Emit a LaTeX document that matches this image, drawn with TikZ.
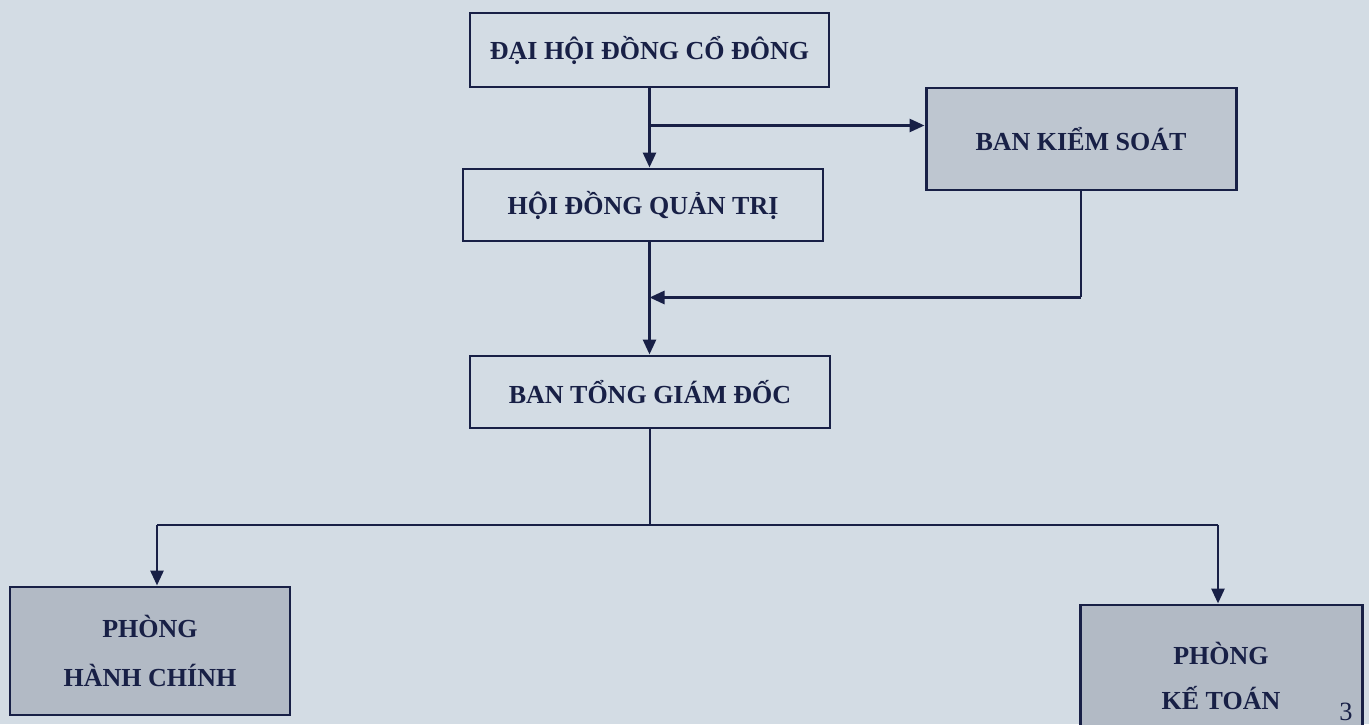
\documentclass[tikz,border=0pt]{standalone}
\usepackage{fontspec}
\setmainfont{Liberation Serif}
\usepackage{tikz}
\usepackage{xcolor}
\usetikzlibrary{arrows.meta, positioning, calc}
\definecolor{cPaper}{RGB}{211,220,228}
\definecolor{cInk}{RGB}{24,32,70}
\definecolor{cShade}{RGB}{190,198,208}
\definecolor{cShadeDk}{RGB}{178,186,197}
\tikzset{
	unit/.style   ={rectangle, draw=cInk, line width=1.7pt, align=center, text=cInk, font=\fontsize{14.8}{18}\selectfont\bfseries},
	shadeunit/.style={unit, fill=cShade},
	sig/.style    ={-{Triangle[length=3mm, width=2.6mm]}, line width=1.6pt, draw=cInk},
	wire/.style   ={line width=1.6pt, draw=cInk},
}
\begin{document}
\begin{tikzpicture}
	\fill[cPaper] (0,0) rectangle (27.38,14.48);
	\useasboundingbox (0,0) rectangle (27.38,14.48);
	\begin{scope}
	\clip (0,0) rectangle (27.38,14.48);
	\node[unit, minimum width=7.18cm, minimum height=1.48cm] (dh) at (12.99,13.48) {ĐẠI HỘI ĐỒNG CỔ ĐÔNG};
	\node[shadeunit, minimum width=6.2cm, minimum height=2.04cm] (bks) at (21.62,11.70) {BAN KIỂM SOÁT};
	\node[unit, minimum width=7.2cm, minimum height=1.44cm] (hd) at (12.86,10.38) {HỘI ĐỒNG QUẢN TRỊ};
	\node[unit, minimum width=7.2cm, minimum height=1.44cm] (tgd) at (13.0,6.64) {BAN TỔNG GIÁM ĐỐC};
	\node[shadeunit, fill=cShadeDk, minimum width=5.6cm, minimum height=2.56cm] (phc) at (3.0,1.46) {PHÒNG\\[10pt] HÀNH CHÍNH};
	\node[shadeunit, fill=cShadeDk, minimum width=5.64cm, minimum height=2.84cm] (pkt) at (24.42,0.96) {PHÒNG\\[8pt] KẾ TOÁN};
	\end{scope}
	% junction points
	\coordinate (j1) at ($(dh.south)+(0,-0.74)$);
	\coordinate (j2) at ($(bks.south)+(0,-2.12)$);
	\coordinate (j3) at ($(tgd.south)+(0,-1.94)$);
	\draw[sig] (dh.south) -- (dh.south |- hd.north);
	\draw[sig] (j1) -- (j1 -| bks.west);
	\draw[sig] (dh.south |- hd.south) -- (dh.south |- tgd.north);
	\draw[wire] (bks.south) -- (j2);
	\draw[sig] (j2) -- (j2 -| dh.south);
	\draw[wire] (tgd.south) -- (j3);
	\draw[wire] (3.14,3.98) coordinate (bl) -- (24.36,3.98) coordinate (br);
	\draw[sig] (bl) -- (bl |- phc.north);
	\draw[sig] (br) -- (br |- pkt.north);
	\node[text=cInk, font=\fontsize{15}{17}\selectfont] (pg) at (26.92,0.24) {3};
\end{tikzpicture}
\end{document}
